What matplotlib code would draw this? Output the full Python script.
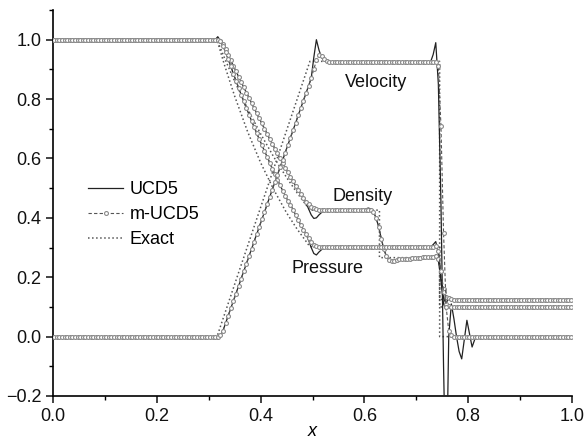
import matplotlib
matplotlib.use('Agg')
import matplotlib.pyplot as plt
from matplotlib.ticker import MultipleLocator

plt.rcParams['font.family'] = ['Liberation Sans', 'DejaVu Sans']

# ---- data (200 cells, cell centres) -----------------------------------
x_grid = [round(0.0025 + 0.005 * i, 4) for i in range(200)]

ramp_u = [0.045, 0.070, 0.095, 0.120, 0.145, 0.170, 0.195, 0.220, 0.245,
          0.270, 0.295, 0.320, 0.345, 0.370, 0.395, 0.420, 0.445, 0.470,
          0.495, 0.520, 0.545, 0.570, 0.595, 0.620, 0.645, 0.670, 0.695,
          0.720, 0.745, 0.770, 0.795, 0.820, 0.845, 0.870]

vel_m = ([0.0] * 63 + [0.0, 0.004, 0.02] + ramp_u
         + [0.900, 0.930, 0.948, 0.945, 0.935, 0.928]
         + [0.925] * 41
         + [0.925, 0.91, 0.71, 0.35, 0.10, 0.02, 0.005]
         + [0.0] * 46)
vel_u = ([0.0] * 63 + [-0.008, 0.0, 0.02] + ramp_u
         + [0.94, 1.0, 0.965, 0.94, 0.93, 0.926]
         + [0.925] * 40
         + [0.95, 0.99, 0.85, 0.45, -0.10, -0.55, 0.0, 0.11, 0.06, 0.0,
            -0.05, -0.075, -0.01, 0.055, 0.01, -0.035, -0.01, 0.0]
         + [0.0] * 36)

rho_ramp = [0.997, 0.985, 0.968, 0.95, 0.93, 0.912, 0.894, 0.876, 0.858,
            0.84, 0.822, 0.805, 0.787, 0.77, 0.752, 0.735, 0.718, 0.70,
            0.683, 0.666, 0.65, 0.633, 0.617, 0.60, 0.584, 0.569, 0.553,
            0.538, 0.523, 0.508, 0.494, 0.48, 0.467]
rho_contact = [0.42, 0.40, 0.37, 0.33, 0.295, 0.27, 0.258, 0.254, 0.255,
               0.258]
rho_post = [0.26, 0.261, 0.262, 0.263, 0.263, 0.264, 0.265, 0.265, 0.266,
            0.267, 0.267, 0.268, 0.268, 0.269]

rho_m = ([1.0] * 63 + [1.0] + rho_ramp
         + [0.455, 0.445, 0.437, 0.432, 0.429, 0.427, 0.426, 0.425, 0.425]
         + [0.425] * 15 + [0.428, 0.428] + rho_contact + rho_post
         + [0.27, 0.262, 0.22, 0.16, 0.135, 0.13, 0.127]
         + [0.125] * 46)
rho_u = ([1.0] * 63 + [1.01] + rho_ramp
         + [0.45, 0.43, 0.41, 0.398, 0.40, 0.41, 0.418, 0.423, 0.425]
         + [0.425] * 14 + [0.43, 0.433, 0.43] + rho_contact + rho_post
         + [0.275, 0.255, 0.20, 0.13, 0.11, 0.135, 0.128]
         + [0.125] * 46)

p_ramp = [0.995, 0.98, 0.958, 0.935, 0.91, 0.886, 0.862, 0.838, 0.815,
          0.792, 0.77, 0.748, 0.727, 0.706, 0.685, 0.665, 0.645, 0.625,
          0.606, 0.586, 0.566, 0.547, 0.528, 0.51, 0.492, 0.475, 0.458,
          0.443, 0.428, 0.41, 0.393, 0.376, 0.36]

pres_m = ([1.0] * 63 + [1.0] + p_ramp
          + [0.345, 0.331, 0.319, 0.31, 0.305, 0.302, 0.301, 0.301, 0.301]
          + [0.301] * 41
          + [0.305, 0.29, 0.22, 0.15, 0.11, 0.104, 0.101]
          + [0.1] * 46)
pres_u = ([1.0] * 63 + [1.005] + p_ramp
          + [0.345, 0.325, 0.30, 0.28, 0.275, 0.285, 0.293, 0.299, 0.301]
          + [0.301] * 40
          + [0.31, 0.32, 0.28, 0.19, 0.11, 0.09, 0.108, 0.102]
          + [0.1] * 46)

# exact solution
ex_rho_x = [0.0, 0.316, 0.33, 0.35, 0.375, 0.40, 0.425, 0.45, 0.47, 0.495,
            0.629, 0.629, 0.745, 0.745, 1.0]
ex_rho = [1.0, 1.0, 0.940, 0.860, 0.767, 0.683, 0.606, 0.536, 0.485, 0.426,
          0.426, 0.266, 0.266, 0.125, 0.125]
ex_p_x = [0.0, 0.316, 0.33, 0.35, 0.375, 0.40, 0.425, 0.45, 0.47, 0.495,
          0.745, 0.745, 1.0]
ex_p = [1.0, 1.0, 0.917, 0.810, 0.690, 0.586, 0.496, 0.417, 0.363, 0.303,
        0.303, 0.1, 0.1]
ex_u_x = [0.0, 0.316, 0.495, 0.745, 0.745, 1.0]
ex_u = [0.0, 0.0, 0.927, 0.927, 0.0, 0.0]

labels = ['UCD5', 'm-UCD5', 'Exact']
annot = [('Velocity', 0.623, 0.855), ('Density', 0.596, 0.473),
         ('Pressure', 0.529, 0.228)]

# ---- plot -------------------------------------------------------------
fig = plt.figure(figsize=(5.85, 4.42), dpi=100)
ax = fig.add_axes([53 / 585, 46 / 442, 519 / 585, 386 / 442])

ex_kw = dict(ls=':', color='#555555', lw=1.1, zorder=2)
m_kw = dict(ls='--', dashes=(3, 2), color='#555555', lw=0.8, marker='o',
            ms=2.8, mfc='white', mec='#8a8a8a', mew=0.8, zorder=4)
u_kw = dict(ls='-', color='#222222', lw=0.9, zorder=3)

for xs, ys in [(ex_rho_x, ex_rho), (ex_p_x, ex_p), (ex_u_x, ex_u)]:
    l_ex, = ax.plot(xs, ys, **ex_kw)
for ys in [rho_u, pres_u, vel_u]:
    l_u, = ax.plot(x_grid, ys, **u_kw)
for ys in [rho_m, pres_m, vel_m]:
    l_m, = ax.plot(x_grid, ys, **m_kw)

ax.set_xlim(0, 1.0)
ax.set_ylim(-0.2, 1.1)
ax.xaxis.set_minor_locator(MultipleLocator(0.1))
ax.yaxis.set_minor_locator(MultipleLocator(0.1))
ax.set_yticks([-0.2, 0.0, 0.2, 0.4, 0.6, 0.8, 1.0])
ax.set_yticklabels(['\u22120.2', '0.0', '0.2', '0.4', '0.6', '0.8', '1.0'])
ax.set_xticks([0.0, 0.2, 0.4, 0.6, 0.8, 1.0])
ax.set_xticklabels(['0.0', '0.2', '0.4', '0.6', '0.8', '1.0'])
for s in ['top', 'right']:
    ax.spines[s].set_visible(False)
for s in ['left', 'bottom']:
    ax.spines[s].set_linewidth(1.2)
ax.tick_params(which='major', direction='out', length=5, width=1.1,
               labelsize=13, colors='#111111')
ax.tick_params(which='minor', direction='out', length=3, width=1.0)
ax.set_xlabel('x', style='italic', fontsize=13, labelpad=-1)

for txt, tx, ty in annot:
    ax.text(tx, ty, txt, ha='center', va='center', fontsize=13,
            color='#111111', zorder=5)

fig.legend([l_u, l_m, l_ex], labels, loc='upper left',
           bbox_to_anchor=(88 / 585, 1 - 181 / 442), frameon=False,
           fontsize=13, handlelength=1.95, handletextpad=0.35,
           labelspacing=0.45, borderpad=0, borderaxespad=0)

fig.savefig('out.png', dpi=100)
